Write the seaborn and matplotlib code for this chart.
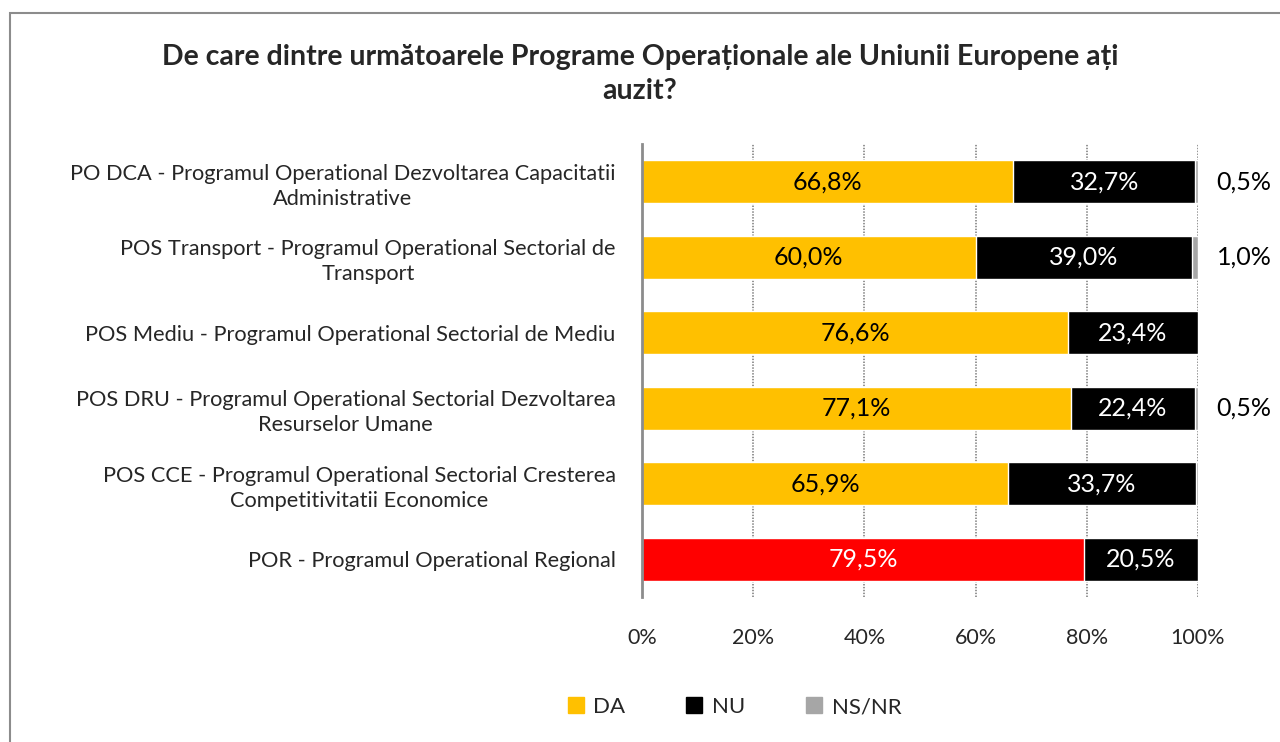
import seaborn as sns
import matplotlib.pyplot as plt
import pandas as pd
from matplotlib.patches import Rectangle
from matplotlib.lines import Line2D

categories = [
    "PO DCA - Programul Operational Dezvoltarea Capacitatii\nAdministrative",
    "POS Transport - Programul Operational Sectorial de\nTransport",
    "POS Mediu - Programul Operational Sectorial de Mediu",
    "POS DRU - Programul Operational Sectorial Dezvoltarea\nResurselor Umane",
    "POS CCE - Programul Operational Sectorial Cresterea\nCompetitivitatii Economice",
    "POR - Programul Operational Regional",
]
da = [66.8, 60.0, 76.6, 77.1, 65.9, 79.5]
nu = [32.7, 39.0, 23.4, 22.4, 33.7, 20.5]
nsnr = [0.5, 1.0, 0.0, 0.5, 0.4, 0.0]
show_nsnr = [True, True, False, True, False, False]
series_names = ["DA", "NU", "NS/NR"]
ticks = [0, 20, 40, 60, 80, 100]

YELLOW = "#FFC000"
RED = "#FF0000"
BLACK = "#000000"
GRAY = "#A6A6A6"
da_colors = [YELLOW, YELLOW, YELLOW, YELLOW, YELLOW, RED]
da_text = ["black", "black", "black", "black", "black", "white"]


def fmt(v):
    return f"{v:.1f}%".replace(".", ",")


def main():
    df = pd.DataFrame({"cat": categories, "da": da, "nu": nu, "nsnr": nsnr})
    df["cum_nu"] = df["da"] + df["nu"]
    df["total"] = df["cum_nu"] + df["nsnr"]

    sns.set_style("white")
    plt.rcParams["font.family"] = ["Lato", "DejaVu Sans"]

    fig = plt.figure(figsize=(12.8, 7.42), dpi=100)
    ax = fig.add_axes([642 / 1280, 1 - 597 / 742, 556 / 1280, 453 / 742])

    bw = 0.57
    sns.barplot(data=df, x="total", y="cat", color=GRAY, width=bw,
                saturation=1, ax=ax, orient="y")
    sns.barplot(data=df, x="cum_nu", y="cat", color=BLACK, width=bw,
                saturation=1, ax=ax, orient="y")
    sns.barplot(data=df, x="da", y="cat", hue="cat", palette=da_colors,
                width=bw, saturation=1, ax=ax, orient="y", legend=False)

    fs = 15.7
    vfs = 18
    for i in range(len(categories)):
        ax.text(da[i] / 2, i, fmt(da[i]), ha="center", va="center",
                color=da_text[i], fontsize=vfs)
        ax.text(da[i] + nu[i] / 2, i, fmt(nu[i]), ha="center", va="center",
                color="white", fontsize=vfs)
        if show_nsnr[i]:
            ax.text(108.3, i, fmt(nsnr[i]), ha="center", va="center",
                    color="black", fontsize=vfs, clip_on=False)

    ax.set_xlim(0, 100)
    ax.set_ylim(5.5, -0.5)
    ax.set_xticks(ticks)
    ax.set_xticklabels([f"{t}%" for t in ticks], fontsize=15.5)
    ax.set_xlabel("")
    ax.set_ylabel("")
    ax.tick_params(axis="x", length=0, pad=22)
    ax.tick_params(axis="y", length=0, pad=19, labelsize=fs)
    for lbl in ax.get_yticklabels():
        lbl.set_multialignment("center")
        lbl.set_linespacing(1.32)

    ax.grid(axis="x", color="#8C8C8C", linestyle=(0, (0.8, 0.8)), linewidth=1.3)
    ax.grid(axis="y", visible=False)
    ax.set_axisbelow(True)
    for s in ["top", "right", "bottom"]:
        ax.spines[s].set_visible(False)
    ax.spines["left"].set_color("#8C8C8C")
    ax.spines["left"].set_linewidth(2)
    ax.spines["left"].set_zorder(5)

    fig.text(640 / 1280, 1 - 74 / 742,
             "De care dintre următoarele Programe Operaționale ale Uniunii Europene ați\nauzit?",
             ha="center", va="center", fontsize=20.5, fontweight="bold",
             multialignment="center", linespacing=1.35)

    handles = [Line2D([], [], marker="s", linestyle="", markersize=11,
                      color=c) for c in [YELLOW, BLACK, GRAY]]
    fig.legend(handles, series_names, loc="center", ncol=3,
               bbox_to_anchor=(733 / 1280, 1 - 707 / 742), frameon=False,
               fontsize=16, handletextpad=0.3, columnspacing=2.6,
               handlelength=1)

    fig.patches.append(Rectangle((10 / 1280, -0.05), 1.1, 1 - 13 / 742 + 0.05,
                                 transform=fig.transFigure, fill=False,
                                 edgecolor="#8C8C8C", linewidth=1.5))

    fig.savefig("out.png", dpi=100)


if __name__ == "__main__":
    main()
